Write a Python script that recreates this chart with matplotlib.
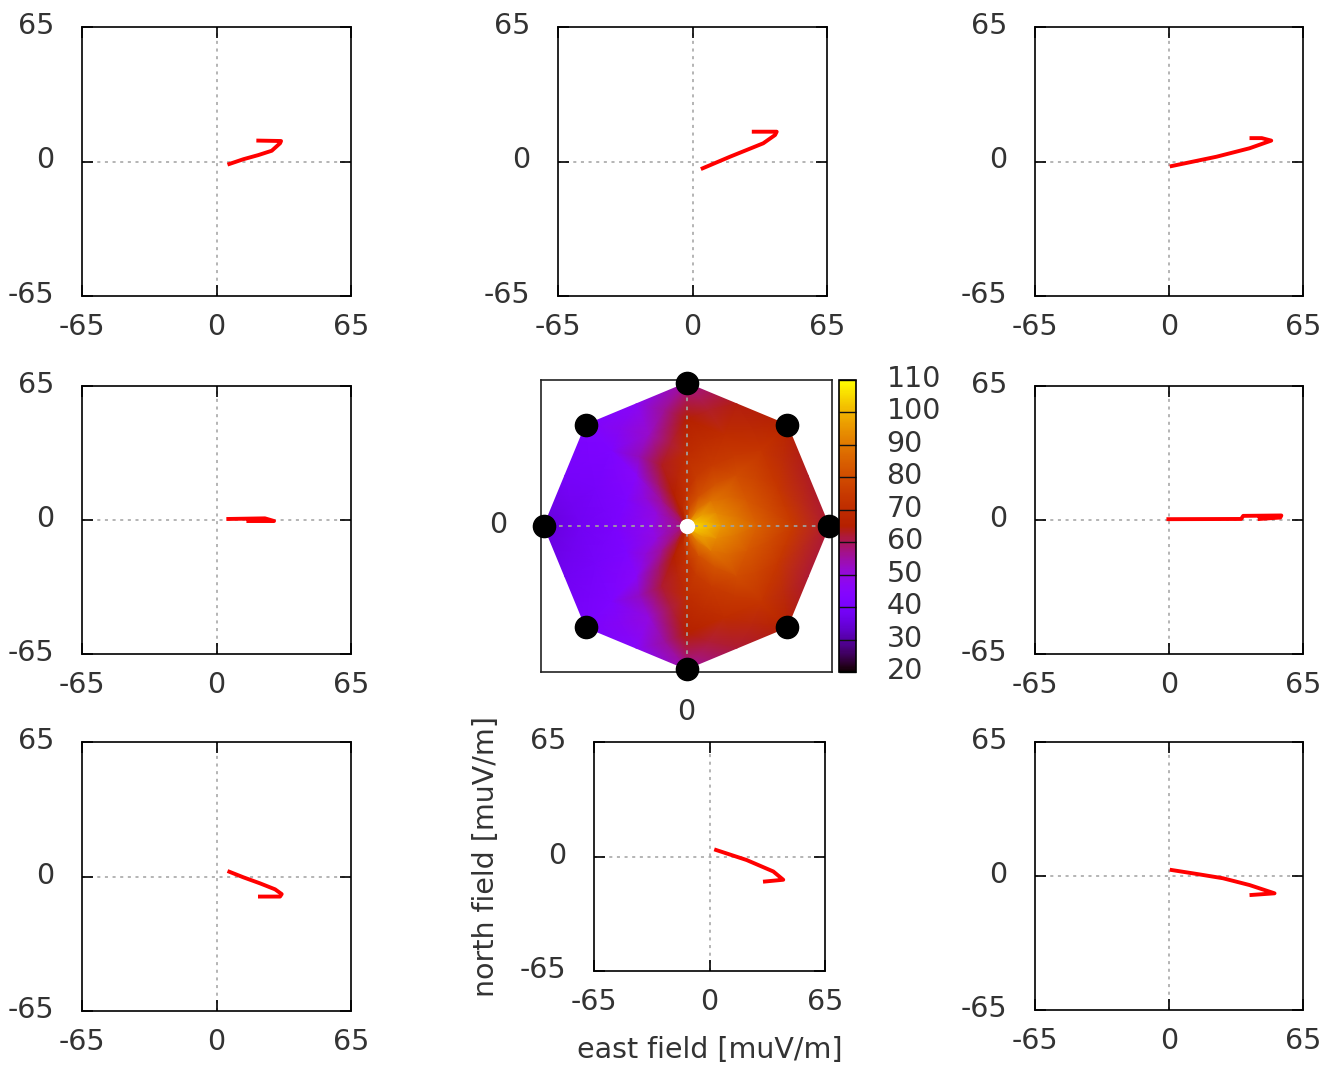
import numpy as np
import matplotlib
matplotlib.use("Agg")
import matplotlib.pyplot as plt
from matplotlib.transforms import ScaledTranslation

"""
Polarization traces of the east/north electric field at 8 antennas
arranged on an octagon, plus the interpolated field-strength footprint.
"""

# --- Data: field traces per antenna (east, north) in muV/m ---
trace_nw_e = [6.2, 13.0, 20.2, 26.7, 30.7, 31.2, 20.2]
trace_nw_n = [-1.2, 1.1, 3.1, 5.2, 8.8, 9.9, 10.1]
trace_n_e = [4.9, 18.1, 34.2, 39.9, 40.7, 29.6]
trace_n_n = [-3.3, 2.3, 8.8, 12.8, 14.4, 14.4]
trace_ne_e = [1.3, 23.0, 39.1, 49.6, 45.0, 40.0]
trace_ne_n = [-2.2, 2.3, 6.4, 10.1, 11.3, 11.3]
trace_w_e = [5.7, 23.4, 27.8, 15.4]
trace_w_n = [0.5, 0.8, -0.5, -0.5]
trace_e_e = [-0.3, 35.0, 36.0, 54.5, 54.0, 44.0]
trace_e_n = [0.4, 0.5, 2.0, 2.2, 1.2, 0.5]
trace_sw_e = [6.2, 13.0, 21.0, 28.3, 31.5, 30.7, 21.0]
trace_sw_n = [2.3, -0.4, -3.3, -6.2, -8.5, -9.7, -9.7]
trace_s_e = [3.7, 20.9, 35.9, 41.5, 31.2]
trace_s_n = [3.7, -2.0, -8.5, -13.2, -14.2]
trace_se_e = [1.3, 13.4, 26.2, 39.1, 51.2, 40.0]
trace_se_n = [2.9, 1.0, -1.1, -4.4, -8.4, -9.2]

# --- Data: footprint (field strength) on rings around the centre ---
# angles counted from east, counter-clockwise
ring_angle = [0, 22.5, 45, 67.5, 90, 112.5, 135, 157.5,
              180, 202.5, 225, 247.5, 270, 292.5, 315, 337.5]
ring_radius = [0.05, 0.25, 0.5, 0.75, 1.0]
ring_005 = [106, 104, 98, 88, 76, 66, 60, 58, 57, 58, 60, 66, 76, 88, 98, 104]
ring_025 = [95, 93, 89, 81, 72, 65, 56, 50, 48, 50, 56, 65, 72, 81, 89, 93]
ring_050 = [85, 83, 80, 75, 70, 63, 46, 42, 41, 42, 46, 62, 70, 75, 80, 83]
ring_075 = [75, 74, 73, 70, 65, 52, 42, 40, 38, 40, 42, 50, 65, 70, 73, 74]
ring_100 = [62, 63, 67, 64, 56, 46, 42, 40, 35, 38, 41, 45, 55, 62, 66, 62]
station_angle = [0, 45, 90, 135, 180, 225, 270, 315]
cb_ticks = [20, 30, 40, 50, 60, 70, 80, 90, 100, 110]

W, H = 1322, 1067
plt.rcParams['font.family'] = ['DejaVu Sans']
plt.rcParams['axes.unicode_minus'] = False
fig = plt.figure(figsize=(W / 100, H / 100), dpi=100)
FS = 20.5
TXT = '#333333'
lift = ScaledTranslation(0, 4 / 100, fig.dpi_scale_trans)


def px_axes(x0, y0, x1, y1):
    # pixel box (top-left origin) -> figure axes
    return fig.add_axes([x0 / W, 1 - y1 / H, (x1 - x0) / W, (y1 - y0) / H])


def lift_ylabels(ax):
    for lab in ax.get_yticklabels():
        lab.set_transform(lab.get_transform() + lift)


def trace_panel(box, xs, ys):
    ax = px_axes(*box)
    ax.axhline(0, color='#a0a0a0', lw=1.1, ls=(0, (2, 3)), zorder=1)
    ax.axvline(0, color='#a0a0a0', lw=1.1, ls=(0, (2, 3)), zorder=1)
    ax.plot(xs, ys, color='red', lw=2.8, zorder=3)
    ax.set_xlim(-65, 65)
    ax.set_ylim(-65, 65)
    ax.set_xticks([-65, 0, 65])
    ax.set_yticks([-65, 0, 65])
    ax.tick_params(direction='in', length=8, width=1.2, top=True, right=True,
                   labelsize=FS, colors='black', labelcolor=TXT)
    ax.tick_params(axis='x', pad=12)
    ax.tick_params(axis='y', pad=20)
    lift_ylabels(ax)
    for s in ax.spines.values():
        s.set_linewidth(1.2)
    return ax


trace_panel((82, 27, 351, 296), trace_nw_e, trace_nw_n)
trace_panel((558, 27, 827, 296), trace_n_e, trace_n_n)
trace_panel((1035, 27, 1303, 296), trace_ne_e, trace_ne_n)
trace_panel((82, 386, 351, 654), trace_w_e, trace_w_n)
trace_panel((1035, 386, 1303, 654), trace_e_e, trace_e_n)
trace_panel((82, 742, 351, 1011), trace_sw_e, trace_sw_n)
axs = trace_panel((594, 742, 825, 971), trace_s_e, trace_s_n)
trace_panel((1035, 742, 1303, 1010), trace_se_e, trace_se_n)
axs.set_xlabel('east field [muV/m]', fontsize=FS, color=TXT, labelpad=15)
axs.set_ylabel('north field [muV/m]', fontsize=FS, color=TXT, labelpad=14)

# --- centre: footprint on the octagon ---
axc = px_axes(541, 380, 832, 672)
vals = np.array([ring_005, ring_025, ring_050, ring_075, ring_100], dtype=float)
vals = np.hstack([vals, vals[:, :1]])
th = np.deg2rad(np.append(ring_angle, 360.0))
oct_r = np.cos(np.pi / 8) / np.cos(np.mod(th, np.pi / 4) - np.pi / 8)
S, TH = np.meshgrid(ring_radius, th, indexing='ij')
R = S * oct_r[None, :]
X = R * np.cos(TH)
Y = R * np.sin(TH)
mesh = axc.pcolormesh(X, Y, vals, shading='gouraud', cmap='gnuplot',
                      vmin=20, vmax=110, zorder=1)
axc.axhline(0, color='#a0a0a0', lw=1.3, ls=(0, (2, 3)), zorder=2)
axc.axvline(0, color='#a0a0a0', lw=1.3, ls=(0, (2, 3)), zorder=2)
sa = np.deg2rad(station_angle)
axc.plot(np.cos(sa), np.sin(sa), 'o', color='black', ms=16, zorder=4,
         clip_on=False)
axc.plot([0], [0], 'o', color='white', ms=10, zorder=4)
lim = 1.021
axc.set_xlim(-lim, lim)
axc.set_ylim(-lim, lim)
axc.set_xticks([0])
axc.set_yticks([0])
axc.tick_params(length=0, labelsize=FS, labelcolor=TXT)
axc.tick_params(axis='x', pad=19)
axc.tick_params(axis='y', pad=24)
lift_ylabels(axc)
for s in axc.spines.values():
    s.set_linewidth(1.2)
    s.set_color('#222222')

cax = px_axes(839, 380, 856, 672)
cb = fig.colorbar(mesh, cax=cax, ticks=cb_ticks)
cb.outline.set_linewidth(1.2)
cb.ax.tick_params(direction='in', length=12.5, width=1.0, color='#111111',
                  labelsize=FS, labelcolor=TXT, pad=22)
lift_ylabels(cb.ax)

fig.savefig('out.png', dpi=100)
